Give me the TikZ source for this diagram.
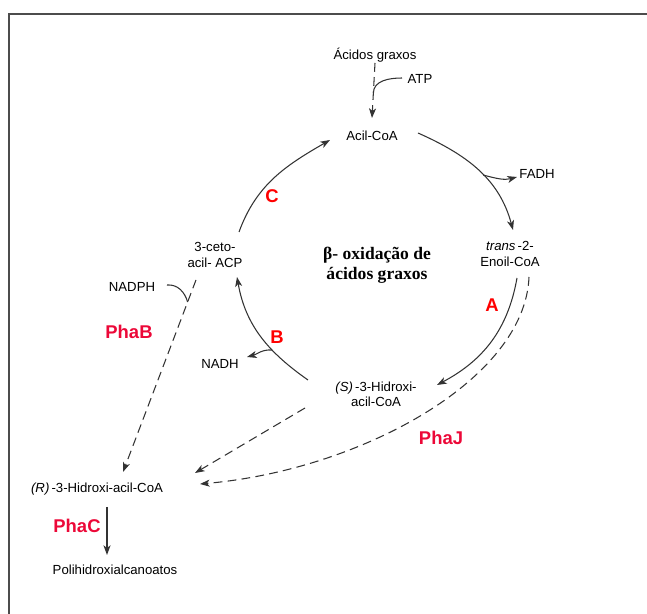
\documentclass[tikz,border=0pt]{standalone}
\usepackage{fontspec}
\setmainfont{Liberation Sans}
\newfontfamily\titlefont{Liberation Serif}
\usepackage{tikz}
\usetikzlibrary{arrows.meta}
\definecolor{phared}{RGB}{236,8,56}
\tikzset{met/.style={font=\fontsize{7.5}{8.6}\selectfont, align=center, inner sep=4pt},
  enz/.style={font=\fontsize{10.5}{12}\selectfont\bfseries, text=red},
  pha/.style={font=\fontsize{10.5}{12}\selectfont\bfseries, text=phared},
  react/.style={draw=black!80, line width=0.6pt, -{Stealth[length=5.5pt,width=4pt,inset=1.5pt]}},
  side/.style={draw=black!80, line width=0.6pt},
  dashline/.style={react, dash pattern=on 5pt off 3pt}}

\begin{document}
\begin{tikzpicture}[x=0.02cm, y=0.02cm]
    \useasboundingbox (0,0) rectangle (647,-614);
    \draw [gray!60!black, line width=1pt] (647,-14) -| (9,-614);

    % metabolitos
    \node [met] (acidos) at (375,-55) {Ácidos graxos};
    \node [met] (atp) at (420,-79) {ATP};
    \node [met] (acil) at (372,-136) {Acil-CoA};
    \node [met] (fadh) at (537,-174) {FADH};
    \node [met] (enoil) at (510,-254) {\textit{trans}\,-2-\\Enoil-CoA};
    \node [met] (ceto) at (215,-255) {3-ceto-\\acil- ACP};
    \node [met] (shid) at (376,-394) {\textit{(S)}\,-3-Hidroxi-\\acil-CoA};
    \node [met] (nadh) at (220,-364) {NADH};
    \node [met] (nadph) at (132,-287) {NADPH};
    \node [met] (rhid) at (97,-489) {\textit{(R)}\,-3-Hidroxi-acil-CoA};
    \node [met] (poli) at (115,-570) {Polihidroxialcanoatos};
    \node [align=center, font=\titlefont\bfseries\fontsize{10}{11.5}\selectfont] (beta) at (377,-265) {β- oxidação de\\ácidos graxos};

    % enzimas
    \node [enz] (enzA) at (492,-305) {A};
    \node [enz] (enzB) at (277,-337) {B};
    \node [enz] (enzC) at (272,-196) {C};
    \node [pha] (phaB) at (129,-332) {PhaB};
    \node [pha] (phaJ) at (441,-438) {PhaJ};
    \node [pha] (phaC) at (77,-526) {PhaC};

    % ciclo
    \draw [dashline] ([shift={(0,-8)}]acidos.center) -- coordinate [pos=0.55] (atpin) ([shift={(0,18)}]acil.center);
    \draw [side] ([shift={(-18,1)}]atp.center) to [out=180,in=90] (atpin);
    \draw [react] ([shift={(46,3)}]acil.center) to [out=-24,in=105] coordinate [pos=0.55] (fadhout) ([shift={(3,24)}]enoil.center);
    \draw [react] (fadhout) to [out=-15,in=195] ([shift={(-20,-3)}]fadh.center);
    \draw [react] ([shift={(7,-24)}]enoil.center) to [out=-100,in=28] ([shift={(61,9)}]shid.center);
    \draw [react] ([shift={(-68,14)}]shid.center) to [out=145,in=-80] coordinate [pos=0.35] (nadhout) ([shift={(22,-22)}]ceto.center);
    \draw [react] (nadhout) to [out=175,in=15] ([shift={(27,7)}]nadh.center);
    \draw [react] ([shift={(24,23)}]ceto.center) to [out=70,in=210] ([shift={(-42,-4)}]acil.center);

    % vias PHA
    \draw [dashline] ([shift={(-19,-25)}]ceto.center) -- coordinate [pos=0.115] (nadphin) ([shift={(26,17)}]rhid.center);
    \draw [side] ([shift={(35,2)}]nadph.center) to [out=5,in=105] (nadphin);
    \draw [dashline] ([shift={(-71,-14)}]shid.center) -- ([shift={(98,16)}]rhid.center);
    \draw [dashline] ([shift={(19,-23)}]enoil.center) .. controls (525,-380) and (360,-470) .. ([shift={(103,5)}]rhid.center);
    \draw [react] ([shift={(10,-18)}]rhid.center) -- ([shift={(-8,15)}]poli.center);
\end{tikzpicture}
\end{document}
